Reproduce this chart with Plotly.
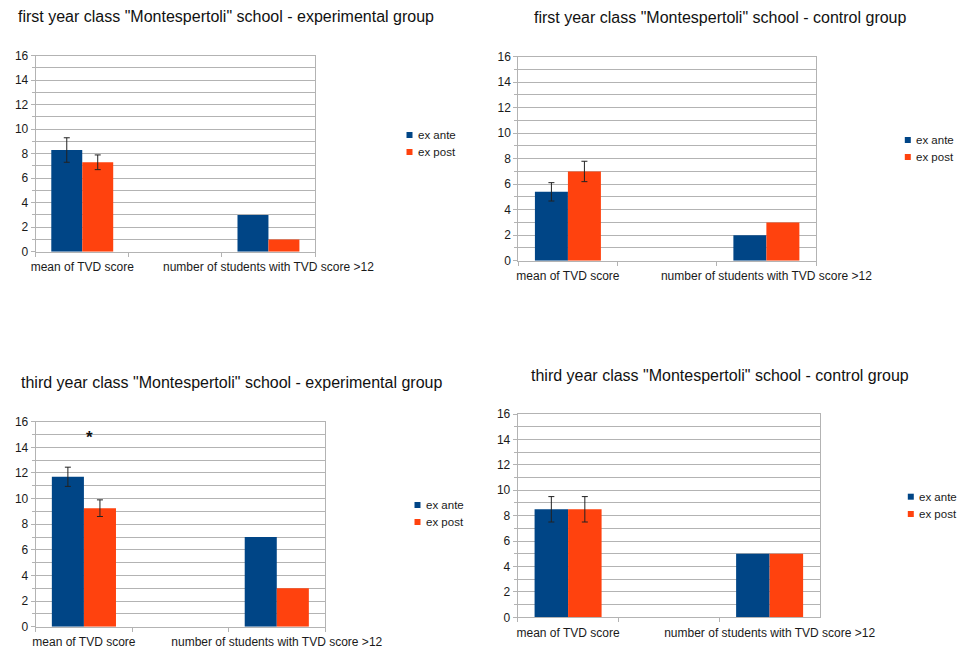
import plotly.graph_objects as go

W, H = 962, 649

categories = ["mean of TVD score", " ", "number of students with TVD score >12"]
series_names = ["ex ante", "ex post"]
series_colors = ["#004586", "#ff420e"]

titles = [
    'first year class "Montespertoli" school - experimental group',
    'first year class "Montespertoli" school - control group',
    'third year class "Montespertoli" school - experimental group',
    'third year class "Montespertoli" school - control group',
]

# first year, experimental group
fy_exp_ante = [8.3, None, 3]
fy_exp_post = [7.3, None, 1]
fy_exp_ante_err = [1.0, None, None]
fy_exp_post_err = [0.6, None, None]

# first year, control group
fy_ctl_ante = [5.4, None, 2]
fy_ctl_post = [7.0, None, 3]
fy_ctl_ante_err = [0.72, None, None]
fy_ctl_post_err = [0.8, None, None]

# third year, experimental group
ty_exp_ante = [11.7, None, 7]
ty_exp_post = [9.25, None, 3]
ty_exp_ante_err = [0.75, None, None]
ty_exp_post_err = [0.65, None, None]

# third year, control group
ty_ctl_ante = [8.5, None, 5]
ty_ctl_post = [8.5, None, 5]
ty_ctl_ante_err = [1.0, None, None]
ty_ctl_post_err = [1.0, None, None]

panel_values = [
    (fy_exp_ante, fy_exp_post, fy_exp_ante_err, fy_exp_post_err),
    (fy_ctl_ante, fy_ctl_post, fy_ctl_ante_err, fy_ctl_post_err),
    (ty_exp_ante, ty_exp_post, ty_exp_ante_err, ty_exp_post_err),
    (ty_ctl_ante, ty_ctl_post, ty_ctl_ante_err, ty_ctl_post_err),
]

y_range = [0, 16]

# panel boxes in pixels: left, right, top, bottom
boxes = [
    (35.7, 315.0, 55.7, 251.7),
    (518.3, 816.0, 56.7, 260.7),
    (35.7, 325.0, 421.7, 626.7),
    (517.7, 820.0, 414.0, 617.3),
]
# title placement: x, y, anchor
title_pos = [
    (16, 17, "left"),
    (720.5, 17.3, "center"),
    (18.7, 382.7, "left"),
    (720, 375, "center"),
]
# legend: text start x, y of first and second entry
legend_pos = [
    (417.0, 135.0, 152.0),
    (915.3, 140.0, 157.0),
    (425.0, 505.0, 522.0),
    (918.3, 496.7, 514.0),
]

GRID = "#b3b3b3"
FONT = "Liberation Sans, Arial, sans-serif"
TXT = "#1a1a1a"

fig = go.Figure()
layout = dict(
    width=W, height=H,
    margin=dict(l=0, r=0, t=0, b=0, autoexpand=False),
    paper_bgcolor="white", plot_bgcolor="white",
    barmode="group", bargap=0.335, bargroupgap=0,
    font=dict(family=FONT, size=12, color=TXT),
    showlegend=False,
    annotations=[], shapes=[],
)


def px(x):
    return x / W


def py(y):
    return 1 - y / H


for i, (vals, box, tp, lp) in enumerate(zip(panel_values, boxes, title_pos, legend_pos)):
    n = "" if i == 0 else str(i + 1)
    ante, post, ante_err, post_err = vals
    for name, color, y, err in zip(series_names, series_colors, (ante, post), (ante_err, post_err)):
        # indices carrying an error bar vs plain counts, sharing one offset slot
        with_err = [k for k in range(len(categories)) if err[k] is not None or y[k] is None]
        plain = [k for k in range(len(categories)) if k not in with_err]
        fig.add_trace(go.Bar(
            x=[categories[k] for k in with_err], y=[y[k] for k in with_err],
            name=name, offsetgroup=name,
            marker=dict(color=color, line=dict(width=0)),
            error_y=dict(type="data", array=[err[k] if err[k] is not None else 0 for k in with_err],
                         visible=True, color="#222222", thickness=1, width=3),
            xaxis="x" + n, yaxis="y" + n,
        ))
        fig.add_trace(go.Bar(
            x=[categories[k] for k in plain], y=[y[k] for k in plain],
            name=name, offsetgroup=name,
            marker=dict(color=color, line=dict(width=0)),
            xaxis="x" + n, yaxis="y" + n,
        ))
    l, r, t, b = box
    layout["xaxis" + n] = dict(
        domain=[l / W, r / W], anchor="y" + n,
        type="category", categoryorder="array", categoryarray=categories,
        range=[-0.5, 2.5], tickson="boundaries", tickangle=0,
        ticks="outside", ticklen=4, tickcolor=GRID, ticklabelstandoff=4,
        showline=True, linecolor=GRID, linewidth=1, mirror=True,
        showgrid=False, tickfont=dict(size=12, color=TXT),
        automargin=False, fixedrange=True,
    )
    layout["yaxis" + n] = dict(
        domain=[1 - b / H, 1 - t / H], anchor="x" + n,
        range=y_range, dtick=2, tick0=0,
        ticks="outside", ticklen=4, tickcolor=GRID,
        showgrid=True, gridcolor=GRID, gridwidth=1,
        minor=dict(dtick=1, showgrid=True, gridcolor=GRID,
                   ticks="outside", ticklen=3, tickcolor=GRID),
        showline=True, linecolor=GRID, linewidth=1, mirror=True,
        zeroline=False, tickfont=dict(size=12, color=TXT),
        automargin=False, fixedrange=True,
    )
    # legend: small colour square and label per series
    tx = lp[0]
    for name, color, yy in zip(series_names, series_colors, lp[1:]):
        layout["shapes"].append(dict(
            type="rect", xref="paper", yref="paper",
            x0=px(tx - 10.5), x1=px(tx - 4.5), y0=py(yy + 3), y1=py(yy - 3),
            fillcolor=color, line=dict(width=0),
        ))
        layout["annotations"].append(dict(
            text=name, x=px(tx - 1), y=py(yy), xref="paper", yref="paper",
            xanchor="left", yanchor="middle", showarrow=False,
            font=dict(size=11.5, color=TXT, family=FONT),
        ))
    layout["annotations"].append(dict(
        text=titles[i], x=px(tp[0]), y=py(tp[1]),
        xref="paper", yref="paper", xanchor=tp[2], yanchor="middle",
        showarrow=False, font=dict(size=16, color="#111111", family=FONT),
    ))

# significance marker on the third-year experimental group
layout["annotations"].append(dict(
    text="<b>*</b>", x=0.06, y=15.05, xref="x3", yref="y3",
    xanchor="center", yanchor="middle", yshift=-4,
    showarrow=False, font=dict(size=17, color="#111111", family=FONT),
))

fig.update_layout(**layout)
fig.write_html("out.html")
